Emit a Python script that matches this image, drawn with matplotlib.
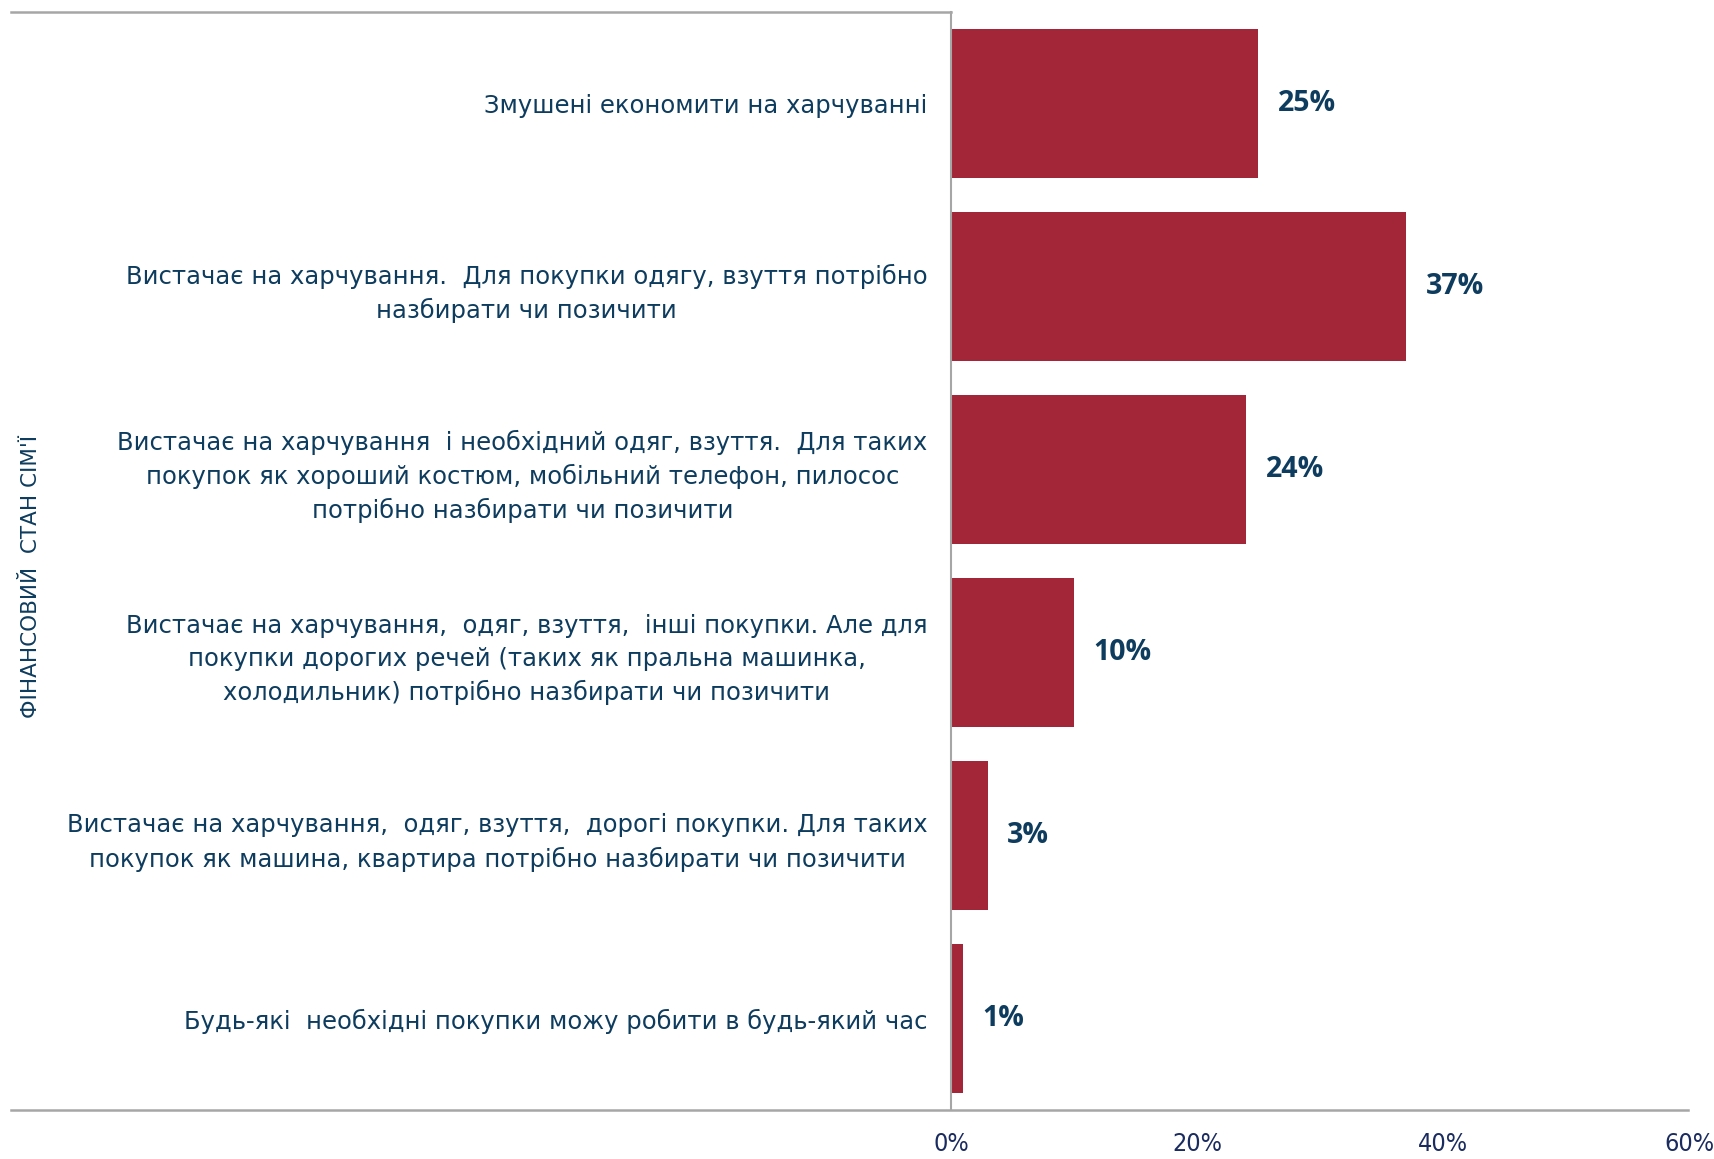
import matplotlib
matplotlib.use("Agg")
import matplotlib.pyplot as plt
from matplotlib.lines import Line2D

# survey answers: financial situation of the family
categories = [
    "Змушені економити на харчуванні",
    "Вистачає на харчування.  Для покупки одягу, взуття потрібно\nназбирати чи позичити",
    "Вистачає на харчування  і необхідний одяг, взуття.  Для таких\nпокупок як хороший костюм, мобільний телефон, пилосос\nпотрібно назбирати чи позичити",
    "Вистачає на харчування,  одяг, взуття,  інші покупки. Але для\nпокупки дорогих речей (таких як пральна машинка,\nхолодильник) потрібно назбирати чи позичити",
    "Вистачає на харчування,  одяг, взуття,  дорогі покупки. Для таких\nпокупок як машина, квартира потрібно назбирати чи позичити",
    "Будь-які  необхідні покупки можу робити в будь-який час",
]
shares = [25, 37, 24, 10, 3, 1]
xticks = [0, 20, 40, 60]
xtick_labels = ["0%", "20%", "40%", "60%"]
axis_title = "ФІНАНСОВИЙ  СТАН СІМ'Ї"

bar_color = "#a32638"
text_color = "#0e3c5e"
tick_color = "#1a2b5f"
line_color = "#a6a6a6"

fig = plt.figure(figsize=(17.15, 11.59), dpi=100)
left, right, bottom, top = 951 / 1715, 1689 / 1715, 1 - 1110 / 1159, 1 - 12 / 1159
ax = fig.add_axes([left, bottom, right - left, top - bottom])

pos = list(range(len(categories)))
ax.barh(pos, shares, height=0.81, color=bar_color)
ax.set_ylim(len(categories) - 0.5, -0.5)
ax.set_xlim(0, 60)

for p, v in zip(pos, shares):
    ax.annotate(f"{v}%", (v, p), xytext=(14, 0), textcoords="offset points",
                ha="left", va="center", fontsize=20.5, fontweight="bold",
                color=text_color, family="Open Sans")

ax.set_yticks(pos)
ax.set_yticklabels(categories, fontsize=17.5, color=text_color, family="DejaVu Sans")
for lbl in ax.get_yticklabels():
    lbl.set_multialignment("center")
    lbl.set_linespacing(1.45)
ax.set_xticks(xticks)
ax.set_xticklabels(xtick_labels, fontsize=18, color=tick_color,
                   family="DejaVu Sans", stretch="condensed")
ax.tick_params(axis="y", length=0, pad=17)
ax.tick_params(axis="x", length=0, pad=16)

for s in ["top", "right", "bottom"]:
    ax.spines[s].set_visible(False)
ax.spines["left"].set_color(line_color)
ax.spines["left"].set_linewidth(1.5)

# frame lines reaching into the label area
fig.add_artist(Line2D([11 / 1715, 1688 / 1715], [bottom, bottom],
                      color=line_color, lw=1.8))
fig.add_artist(Line2D([11 / 1715, left], [top, top], color=line_color, lw=1.8))

fig.text(31 / 1715, 1 - 576 / 1159, axis_title, rotation=90, ha="center",
         va="center", fontsize=15.5, color=text_color, family="DejaVu Sans")

fig.savefig("out.png", dpi=100)
